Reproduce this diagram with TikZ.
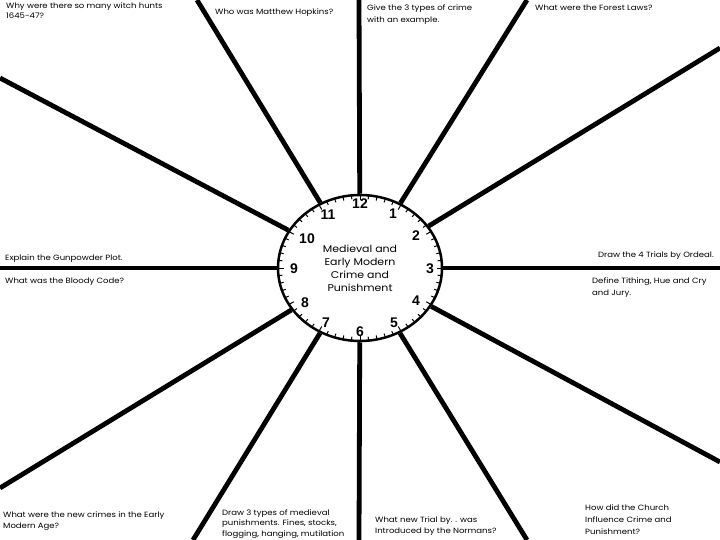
\documentclass[tikz,border=0pt]{standalone}
\usepackage{fontspec}
\setmainfont{Poppins}[FakeStretch=1.12]
\newfontfamily\numfont{Liberation Sans}
\usetikzlibrary{shapes.geometric}
\begin{document}
\begin{tikzpicture}[x=1pt,y=-1pt,
  spoke/.style={line width=4.8pt},
  tick/.style={line width=1pt},
  lbl/.style={inner sep=0pt, align=left, anchor=north west, font=\fontsize{7.6}{11}\selectfont},
  num/.style={font=\numfont\bfseries\fontsize{14}{14}\selectfont, inner sep=0pt},
  centre/.style={align=center, inner sep=0pt, font=\fontsize{9.8}{13}\selectfont}
]
\useasboundingbox (0,0) rectangle (720,540);
\fill[white] (0,0) rectangle (720,540);
\node[ellipse, draw, line width=2.5pt, minimum width=164pt, minimum height=146pt, inner sep=0pt] (clock) at (360,268) {};
% outer ends of spokes
\coordinate (e12) at (359,0);
\coordinate (e11) at (197,0);
\coordinate (e1) at (527,0);
\coordinate (e10) at (0,78);
\coordinate (e9) at (0,268);
\coordinate (e8) at (0,488);
\coordinate (e7) at (193,540);
\coordinate (e6) at (359,540);
\coordinate (e5) at (527,540);
\coordinate (e4) at (720,462);
\coordinate (e3) at (720,268);
\coordinate (e2) at (720,48);
\foreach \e in {e1,e2,e3,e4,e5,e6,e7,e8,e9,e10,e11,e12}
  \draw[spoke] (clock) -- (\e);
% ticks
\foreach \i in {0,...,59} {
  \pgfmathsetmacro\len{mod(\i,5)==0 ? 5.5 : 4}
  \draw[tick] ({360+82*cos(6*\i)},{268+73*sin(6*\i)}) -- ({360+(82-\len)*cos(6*\i)},{268+(73-\len)*sin(6*\i)});
}
% numbers
\node[num] (n12) at (360,204) {12};
\node[num] (n1) at (393,214) {1};
\node[num] (n2) at (416,236) {2};
\node[num] (n3) at (430,269) {3};
\node[num] (n4) at (416,301) {4};
\node[num] (n5) at (394,323) {5};
\node[num] (n6) at (360,332) {6};
\node[num] (n7) at (326,323) {7};
\node[num] (n8) at (305,303) {8};
\node[num] (n9) at (294,269) {9};
\node[num] (n10) at (307,239) {10};
\node[num] (n11) at (328,215) {11};
\node[centre] (title) at (360,268) {Medieval and\\Early Modern\\Crime and\\Punishment};
% labels
\node[lbl, font=\fontsize{7.6}{10}\selectfont] (q1) at (6,3) {Why were there so many witch hunts\\1645-47?};
\node[lbl] (q2) at (215,9) {Who was Matthew Hopkins?};
\node[lbl, font=\fontsize{7.6}{12}\selectfont] (q3) at (367,4) {Give the 3 types of crime\\with an example.};
\node[lbl] (q4) at (535,5) {What were the Forest Laws?};
\node[lbl] (q5) at (5,255) {Explain the Gunpowder Plot.};
\node[lbl] (q6) at (5,278) {What was the Bloody Code?};
\node[lbl, anchor=north east] (q7) at (714,252) {Draw the 4 Trials by Ordeal.};
\node[lbl, font=\fontsize{7.6}{12}\selectfont] (q8) at (592,277) {Define Tithing, Hue and Cry\\and Jury.};
\node[lbl, font=\fontsize{7.6}{10.5}\selectfont] (q9) at (3,512) {What were the new crimes in the Early\\Modern Age?};
\node[lbl, font=\fontsize{7.6}{10.5}\selectfont] (q10) at (222,509) {Draw 3 types of medieval\\punishments. Fines, stocks,\\flogging, hanging, mutilation};
\node[lbl, font=\fontsize{7.6}{10.5}\selectfont] (q11) at (375,517) {What new Trial by. . was\\Introduced by the Normans?};
\node[lbl, font=\fontsize{7.6}{12}\selectfont] (q12) at (585,505) {How did the Church\\Influence Crime and\\Punishment?};
\end{tikzpicture}
\end{document}
